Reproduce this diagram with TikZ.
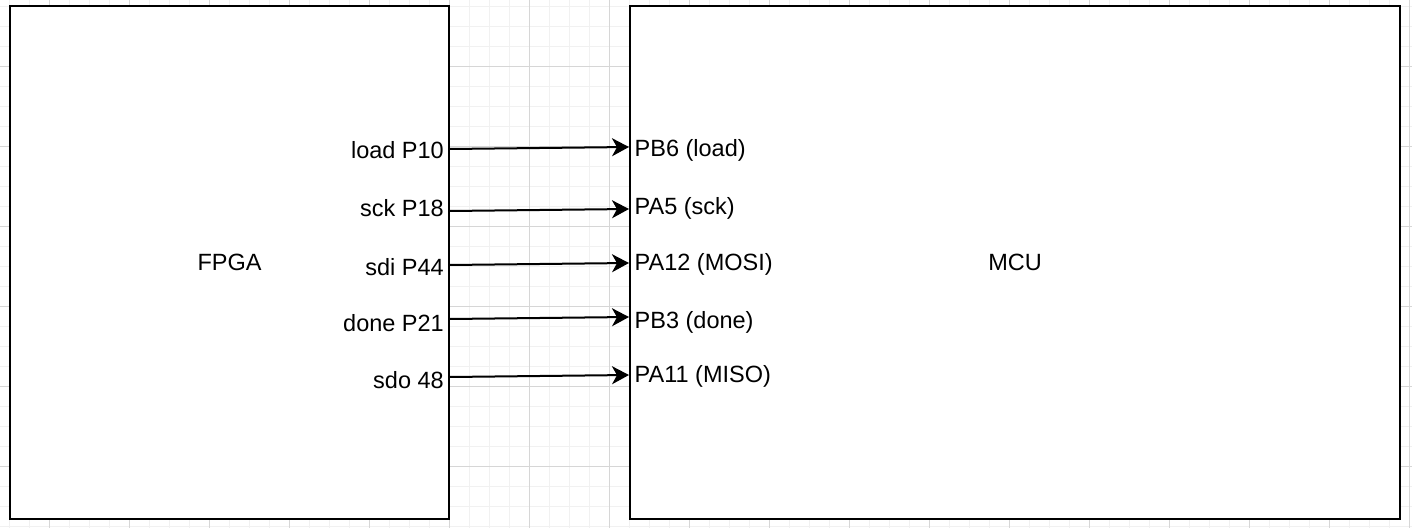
\documentclass[tikz,border=0pt]{standalone}
\usepackage{fontspec}
\setmainfont{Liberation Sans}
\usetikzlibrary{arrows.meta}
\definecolor{gridminor}{HTML}{F1F1F1}
\definecolor{gridmajor}{HTML}{D6D6D6}
\tikzset{
  box/.style={draw=black, line width=2pt, fill=white, inner sep=0pt,
    font=\fontsize{23.5}{27}\selectfont},
  pinlbl/.style={inner sep=0pt, font=\fontsize{23.5}{27}\selectfont},
  arr/.style={draw=black, line width=2pt,
    -{Stealth[length=17pt, width=18pt, inset=5pt]}},
}
\begin{document}
\begin{tikzpicture}[x=1pt, y=-1pt]
\useasboundingbox (0,0) rectangle (1412,528);
\fill[white] (0,0) rectangle (1412,528);
% grid
\foreach \gx in {9,29,...,1409} \draw[gridminor, line width=1pt] (\gx,0) -- (\gx,528);
\foreach \gy in {6,26,...,526} \draw[gridminor, line width=1pt] (0,\gy) -- (1412,\gy);
\foreach \gx in {49,129,...,1409} \draw[gridmajor, line width=1pt] (\gx,0) -- (\gx,528);
\foreach \gy in {66,146,...,526} \draw[gridmajor, line width=1pt] (0,\gy) -- (1412,\gy);
% boxes
\node[box, minimum width=439pt, minimum height=513pt] (fpga) at (229.5,262.5) {FPGA};
\node[box, minimum width=770pt, minimum height=513pt] (mcu) at (1015,262.5) {MCU};
% pin labels FPGA
\node[pinlbl, anchor=base east] (lf1) at (444,158.3) {load P10};
\node[pinlbl, anchor=base east] (lf2) at (444,216.7) {sck P18};
\node[pinlbl, anchor=base east] (lf3) at (444,275) {sdi P44};
\node[pinlbl, anchor=base east] (lf4) at (444,331.7) {done P21};
\node[pinlbl, anchor=base east] (lf5) at (444,388) {sdo 48};
% pin labels MCU
\node[pinlbl, anchor=base west] (lm1) at (634.5,156) {PB6 (load)};
\node[pinlbl, anchor=base west] (lm2) at (634.5,214) {PA5 (sck)};
\node[pinlbl, anchor=base west] (lm3) at (634.5,270) {PA12 (MOSI)};
\node[pinlbl, anchor=base west] (lm4) at (634.5,328) {PB3 (done)};
\node[pinlbl, anchor=base west] (lm5) at (634.5,382) {PA11 (MISO)};
% connector ends
\coordinate (a1) at (449,149);
\coordinate (a2) at (449,211);
\coordinate (a3) at (449,265);
\coordinate (a4) at (449,319);
\coordinate (a5) at (449,377);
\coordinate (b1) at (629,147);
\coordinate (b2) at (629,209);
\coordinate (b3) at (629,263);
\coordinate (b4) at (629,317);
\coordinate (b5) at (629,375);
\draw[arr] (a1) -- (b1);
\draw[arr] (a2) -- (b2);
\draw[arr] (a3) -- (b3);
\draw[arr] (a4) -- (b4);
\draw[arr] (a5) -- (b5);
\end{tikzpicture}
\end{document}
